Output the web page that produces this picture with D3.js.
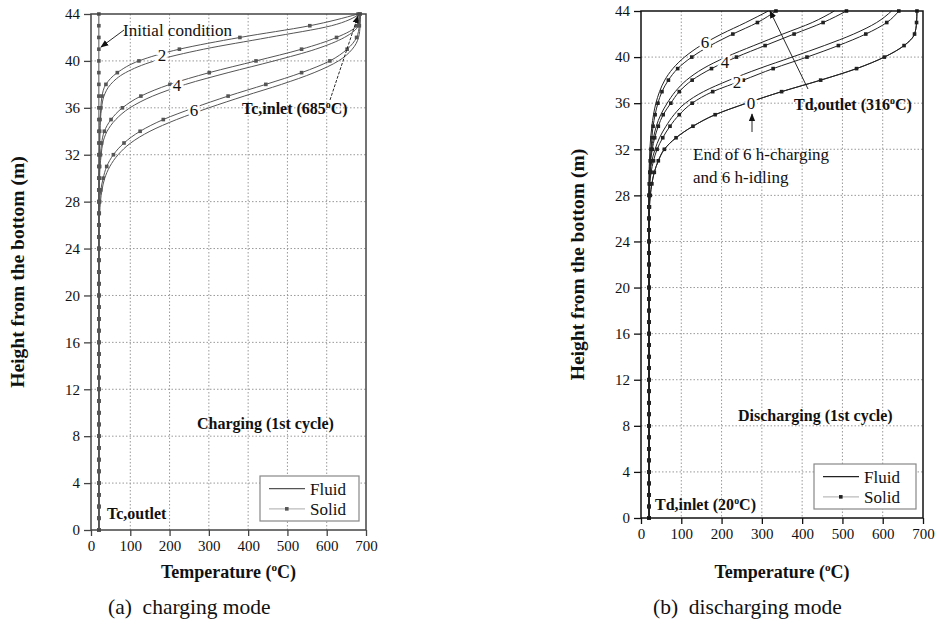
<!DOCTYPE html>
<html>
<head>
<meta charset="utf-8">
<script src="https://cdn.jsdelivr.net/npm/d3@7"></script>
<style>
  body { margin: 0; background: #fff; }
  svg { display: block; }
  text { font-family: "Liberation Serif", "Times New Roman", serif; fill: #111; }
</style>
</head>
<body>
<svg id="chart" width="941" height="624"></svg>
<script>
// ---------------- DATA ----------------
const heights = [0,1,2,3,4,5,6,7,8,9,10,11,12,13,14,15,16,17,18,19,20,21,22,23,24,25,26,27,28,29,30,31,32,33,34,35,36,37,38,39,40,41,42,43,44];
const xTicks = [0,100,200,300,400,500,600,700];
const yTicks = [0,4,8,12,16,20,24,28,32,36,40,44];

// (a) Charging mode, temperature (°C) at each height
const initCond = [20,20,20,20,20,20,20,20,20,20, 20,20,20,20,20,20,20,20,20,20, 20,20,20,20,20,20,20,20,20,20, 20,20,20,20,20,20,20,20,20,20, 20,20,20,20,20];
const c2Solid  = [20,20,20,20,20,20,20,20,20,20, 20,20,20,20,20,20,20,20,20,20, 20,20,20,20,20,20,20,20,20,20, 20,21,21,22,22,23,25,28,38,67, 122,225,379,557,680];
const c2Fluid  = [20,20,20,20,20,20,20,20,20,20, 20,20,20,20,20,20,20,20,20,20, 20,20,20,20,20,20,20,20,20,20, 20,21,21,22,23,24,27,33,50,88, 162,287,452,612,685];
const c4Solid  = [20,20,20,20,20,20,20,20,20,20, 20,20,20,20,20,20,20,20,20,20, 20,20,20,20,20,20,20,20,20,21, 21,22,24,27,34,51,80,127,201,301, 420,536,625,676,684];
const c4Fluid  = [20,20,20,20,20,20,20,20,20,20, 20,20,20,20,20,20,20,20,20,20, 20,20,20,20,20,20,20,20,20,21, 22,23,26,30,41,63,99,157,241,349, 466,572,645,680,685];
const c6Solid  = [20,20,20,20,20,20,20,20,20,20, 20,20,20,20,20,20,20,20,20,20, 20,20,20,20,20,20,20,21,22,25, 31,40,57,84,125,184,262,349,445,536, 608,652,676,683,685];
const c6Fluid  = [20,20,20,20,20,20,20,20,20,20, 20,20,20,20,20,20,20,20,20,20, 20,20,20,20,20,20,20,22,24,28, 35,48,69,101,150,218,300,390,485,568, 630,665,681,685,686];

// (b) Discharging mode
const d0Solid  = [20,20,20,20,20,20,20,20,20,20, 20,20,20,20,20,20,20,20,20,20, 20,20,20,20,20,20,20,21,23,27, 33,43,58,87,129,184,262,349,446,535, 604,653,679,684,685];
const d0Fluid  = [20,20,20,20,20,20,20,20,20,20, 20,20,20,20,20,20,20,20,20,20, 20,20,20,20,20,20,20,21,23,27, 33,43,58,87,129,184,262,349,446,535, 604,653,679,684,685];
const d2Solid  = [20,20,20,20,20,20,20,20,20,20, 20,20,20,20,20,20,20,20,20,20, 20,20,20,20,20,20,20,20,21,22, 25,31,40,54,72,95,127,178,254,328, 412,490,558,610,640];
const d2Fluid  = [20,20,20,20,20,20,20,20,20,20, 20,20,20,20,20,20,20,20,20,20, 20,20,20,20,20,20,20,20,20,21, 23,27,35,46,62,82,110,155,219,293, 375,455,528,585,622];
const d4Solid  = [20,20,20,20,20,20,20,20,20,20, 20,20,20,20,20,20,20,20,20,20, 20,20,20,20,20,20,20,20,20,21, 22,24,28,34,43,55,74,95,127,175, 237,308,380,452,510];
const d4Fluid  = [20,20,20,20,20,20,20,20,20,20, 20,20,20,20,20,20,20,20,20,20, 20,20,20,20,20,20,20,20,20,20, 21,23,26,31,38,49,65,85,113,154, 211,280,352,425,480];
const d6Solid  = [20,20,20,20,20,20,20,20,20,20, 20,20,20,20,20,20,20,20,20,20, 20,20,20,20,20,20,20,20,20,21, 22,23,25,27,30,35,42,52,68,91, 126,172,228,289,335];
const d6Fluid  = [20,20,20,20,20,20,20,20,20,20, 20,20,20,20,20,20,20,20,20,20, 20,20,20,20,20,20,20,20,20,20, 20,21,22,24,27,31,37,46,59,79, 108,148,200,260,316];

const legendLabels = ["Fluid", "Solid"];

// ---------------- DRAWING ----------------
const svg = d3.select("#chart");
const defs = svg.append("defs");
defs.append("marker").attr("id", "arrow")
  .attr("viewBox", "0 0 10 10").attr("refX", 9).attr("refY", 5)
  .attr("markerWidth", 8).attr("markerHeight", 8)
  .attr("markerUnits", "userSpaceOnUse").attr("orient", "auto")
  .append("path").attr("d", "M0,1 L10,5 L0,9 Z").attr("fill", "#111");

function supText(g, x, y, pre, sup, post, opts) {
  const t = g.append("text").attr("x", x).attr("y", y)
    .attr("font-size", opts.size).attr("font-weight", opts.weight || "normal")
    .attr("text-anchor", opts.anchor || "start");
  t.append("tspan").text(pre);
  t.append("tspan").attr("dy", -opts.size * 0.38).attr("font-size", opts.size * 0.62).text(sup);
  t.append("tspan").attr("dy", opts.size * 0.38).text(post);
  return t;
}

function drawPanel(cfg) {
  const g = svg.append("g");
  const x = d3.scaleLinear().domain([0, 700]).range([cfg.x0, cfg.x1]);
  const y = d3.scaleLinear().domain([0, 44]).range([cfg.y1, cfg.y0]);

  // grid
  g.append("g").selectAll("line").data(xTicks.filter(d => d > 0 && d < 700)).join("line")
    .attr("x1", d => x(d)).attr("x2", d => x(d)).attr("y1", cfg.y0).attr("y2", cfg.y1)
    .attr("stroke", "#999").attr("stroke-width", 1).attr("stroke-dasharray", "1.5,2");
  g.append("g").selectAll("line").data(yTicks.filter(d => d > 0 && d < 44)).join("line")
    .attr("y1", d => y(d)).attr("y2", d => y(d)).attr("x1", cfg.x0).attr("x2", cfg.x1)
    .attr("stroke", "#999").attr("stroke-width", 1).attr("stroke-dasharray", "1.5,2");

  const line = d3.line().x(d => x(d[0])).y(d => y(d[1])).curve(d3.curveMonotoneY);

  cfg.series.forEach(s => {
    const pts = s.values.map((v, i) => [v, heights[i]]);
    g.append("path").attr("d", line(pts)).attr("fill", "none")
      .attr("stroke", cfg.color).attr("stroke-width", 1);
    if (s.marked) {
      g.append("g").selectAll("rect").data(pts).join("rect")
        .attr("x", d => x(d[0]) - 1.8).attr("y", d => y(d[1]) - 1.8)
        .attr("width", 3.6).attr("height", 3.6).attr("fill", cfg.color);
    }
  });

  // frame
  g.append("rect").attr("x", cfg.x0).attr("y", cfg.y0)
    .attr("width", cfg.x1 - cfg.x0).attr("height", cfg.y1 - cfg.y0)
    .attr("fill", "none").attr("stroke", cfg.axisColor).attr("stroke-width", 1.5);

  // axes
  const ax = g.append("g").attr("transform", `translate(0,${cfg.y1})`)
    .call(d3.axisBottom(x).tickValues(xTicks).tickSize(6).tickPadding(4).tickSizeOuter(0));
  const ay = g.append("g").attr("transform", `translate(${cfg.x0},0)`)
    .call(d3.axisLeft(y).tickValues(yTicks).tickSize(7).tickPadding(4).tickSizeOuter(0));
  [ax, ay].forEach(a => {
    a.select(".domain").remove();
    a.selectAll("line").attr("stroke", cfg.axisColor).attr("stroke-width", 1.3);
    a.selectAll("text").attr("font-family", "Liberation Serif").attr("font-size", 15).attr("fill", "#111");
  });

  // axis titles
  supText(g, (cfg.x0 + cfg.x1) / 2, 578, "Temperature (", "o", "C)", { size: 18, weight: "bold", anchor: "middle" });
  g.append("text").attr("transform", `translate(${cfg.yTitleX + 6},${(cfg.y0 + cfg.y1) / 2}) rotate(-90)`)
    .attr("text-anchor", "middle").attr("font-size", 19.5).attr("font-weight", "bold")
    .text("Height from the bottom (m)");

  // caption
  g.append("text").attr("x", cfg.capX).attr("y", 614).attr("font-size", 21.5)
    .attr("xml:space", "preserve").style("white-space", "pre").text(cfg.caption);

  // legend
  const L = cfg.legend;
  g.append("rect").attr("x", L.x).attr("y", L.y).attr("width", L.w).attr("height", L.h)
    .attr("fill", "#fff").attr("stroke", "#888").attr("stroke-width", 1.2);
  legendLabels.forEach((lab, i) => {
    const ly = L.y + L.h * (i === 0 ? 0.28 : 0.73);
    g.append("line").attr("x1", L.x + 9).attr("x2", L.x + 45).attr("y1", ly).attr("y2", ly)
      .attr("stroke", i === 0 ? cfg.color : "#bbb").attr("stroke-width", 1.2);
    if (i === 1) g.append("rect").attr("x", L.x + 25).attr("y", ly - 1.8).attr("width", 3.6).attr("height", 3.6).attr("fill", cfg.color);
    g.append("text").attr("x", L.x + 50).attr("y", ly + 6).attr("font-size", 17).text(lab);
  });

  // curve labels
  cfg.curveLabels.forEach(c => {
    g.append("text").attr("x", c.x).attr("y", c.y + 6).attr("text-anchor", "middle")
      .attr("font-size", 17).attr("stroke", "#fff").attr("stroke-width", 5)
      .attr("paint-order", "stroke").text(c.t);
  });
  return g;
}

// Panel (a)
const ga = drawPanel({
  x0: 91, x1: 366, y0: 14, y1: 530, color: "#555", axisColor: "#444",
  yTitleX: 18, capX: 108, caption: "(a)  charging mode",
  legend: { x: 260, y: 476, w: 99, h: 45 },
  series: [
    { values: initCond, marked: true },
    { values: c2Fluid, marked: false }, { values: c2Solid, marked: true },
    { values: c4Fluid, marked: false }, { values: c4Solid, marked: true },
    { values: c6Fluid, marked: false }, { values: c6Solid, marked: true }
  ],
  curveLabels: [{ t: "2", x: 162, y: 55 }, { t: "4", x: 177, y: 85 }, { t: "6", x: 194, y: 110 }]
});
ga.append("text").attr("x", 123).attr("y", 36).attr("font-size", 17).text("Initial condition");
ga.append("line").attr("x1", 124).attr("y1", 30).attr("x2", 101).attr("y2", 47)
  .attr("stroke", "#111").attr("stroke-width", 0.9).attr("marker-end", "url(#arrow)");
supText(ga, 242, 114, "Tc,inlet (685", "o", "C)", { size: 16, weight: "bold" });
ga.append("line").attr("x1", 330).attr("y1", 100).attr("x2", 358).attr("y2", 16)
  .attr("stroke", "#111").attr("stroke-width", 0.9).attr("stroke-dasharray", "3,1.5").attr("marker-end", "url(#arrow)");
ga.append("text").attr("x", 197).attr("y", 429).attr("font-size", 16).attr("font-weight", "bold").text("Charging (1st cycle)");
ga.append("text").attr("x", 107).attr("y", 519).attr("font-size", 16).attr("font-weight", "bold").text("Tc,outlet");

// Panel (b)
const gb = drawPanel({
  x0: 641, x1: 923, y0: 11, y1: 518, color: "#222", axisColor: "#111",
  yTitleX: 578, capX: 653, caption: "(b)  discharging mode",
  legend: { x: 814, y: 464, w: 102, h: 45 },
  series: [
    { values: d0Fluid, marked: false }, { values: d0Solid, marked: true },
    { values: d2Fluid, marked: false }, { values: d2Solid, marked: true },
    { values: d4Fluid, marked: false }, { values: d4Solid, marked: true },
    { values: d6Fluid, marked: false }, { values: d6Solid, marked: true }
  ],
  curveLabels: [{ t: "6", x: 705, y: 42 }, { t: "4", x: 725, y: 62 }, { t: "2", x: 737, y: 82 }, { t: "0", x: 751, y: 103 }]
});
supText(gb, 794, 110, "Td,outlet (316", "o", "C)", { size: 16, weight: "bold" });
gb.append("line").attr("x1", 808).attr("y1", 89).attr("x2", 770).attr("y2", 11)
  .attr("stroke", "#111").attr("stroke-width", 0.9).attr("marker-end", "url(#arrow)");
gb.append("text").attr("x", 693).attr("y", 160).attr("font-size", 17).text("End of 6 h-charging");
gb.append("text").attr("x", 693).attr("y", 183).attr("font-size", 17).text("and 6 h-idling");
gb.append("line").attr("x1", 752).attr("y1", 132).attr("x2", 752).attr("y2", 114)
  .attr("stroke", "#111").attr("stroke-width", 0.9).attr("marker-end", "url(#arrow)");
gb.append("text").attr("x", 738).attr("y", 421).attr("font-size", 16).attr("font-weight", "bold").text("Discharging (1st cycle)");
supText(gb, 655, 510, "Td,inlet (20", "o", "C)", { size: 16, weight: "bold" });
</script>
</body>
</html>
